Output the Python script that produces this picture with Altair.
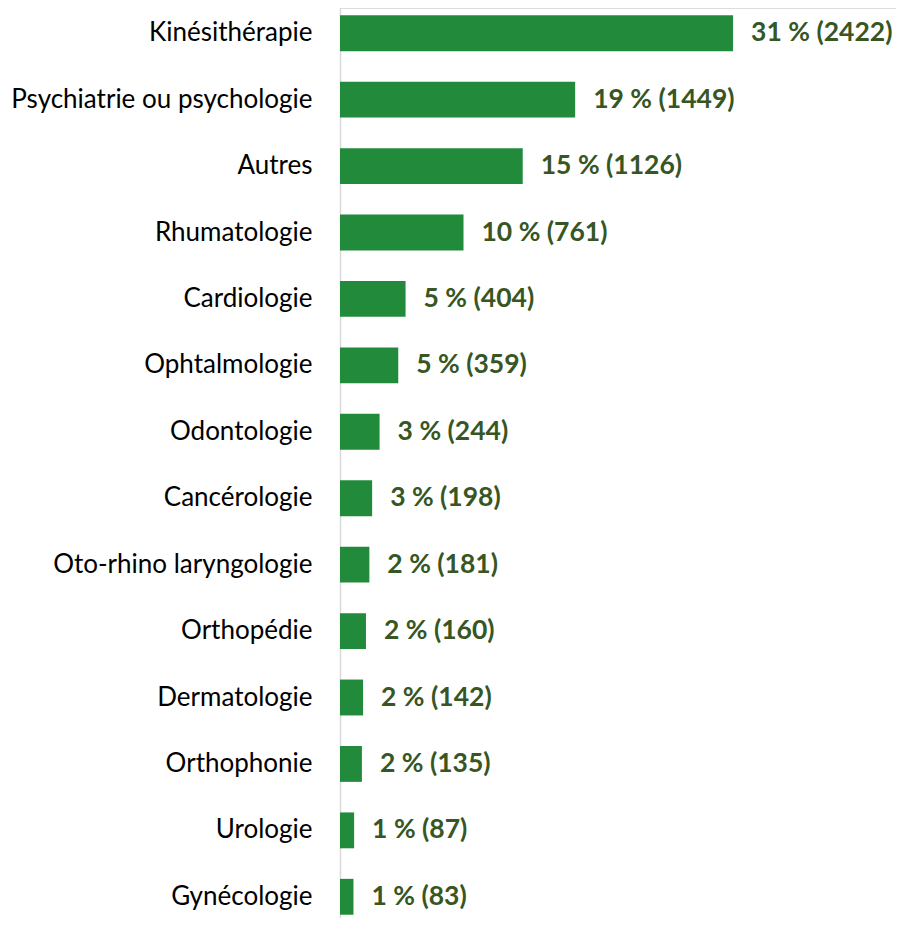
import altair as alt
import pandas as pd

categories = ["Kinésithérapie", "Psychiatrie ou psychologie", "Autres", "Rhumatologie",
              "Cardiologie", "Ophtalmologie", "Odontologie", "Cancérologie",
              "Oto-rhino laryngologie", "Orthopédie", "Dermatologie", "Orthophonie",
              "Urologie", "Gynécologie"]
counts = [2422, 1449, 1126, 761, 404, 359, 244, 198, 181, 160, 142, 135, 87, 83]
percents = [31, 19, 15, 10, 5, 5, 3, 3, 2, 2, 2, 2, 1, 1]

df = pd.DataFrame({
    "cat": categories,
    "n": counts,
    "label": [f"{p} % ({c})" for p, c in zip(percents, counts)],
})

FONT = "Lato"

y = alt.Y("cat:N", sort=categories, title=None,
          scale=alt.Scale(range=[-8, 922], paddingInner=0.46, paddingOuter=0.23),
          axis=alt.Axis(ticks=False, labelFont=FONT, labelFontSize=26, labelColor="#000000",
                        labelPadding=28, domainColor="#d9d9d9", domainWidth=1.5,
                        labelLimit=400))
x = alt.X("n:Q", title=None, scale=alt.Scale(domain=[0, 3426], nice=False), axis=None)

bars = alt.Chart(df).mark_bar(color="#228B3B").encode(x=x, y=y)
text = alt.Chart(df).mark_text(align="left", baseline="middle", dx=18, font=FONT,
                               fontSize=26.5, fontWeight="bold", color="#375623").encode(
    x=x, y=y, text="label:N")

chart = (bars + text).properties(
    width=556, height=910,
    autosize=alt.AutoSizeParams(type="none"),
    padding={"left": 332, "top": 0, "right": 0, "bottom": 0},
).configure_view(stroke=None).configure(background="white")

chart.save("out.html", embed_options={"renderer": "svg", "actions": False})
